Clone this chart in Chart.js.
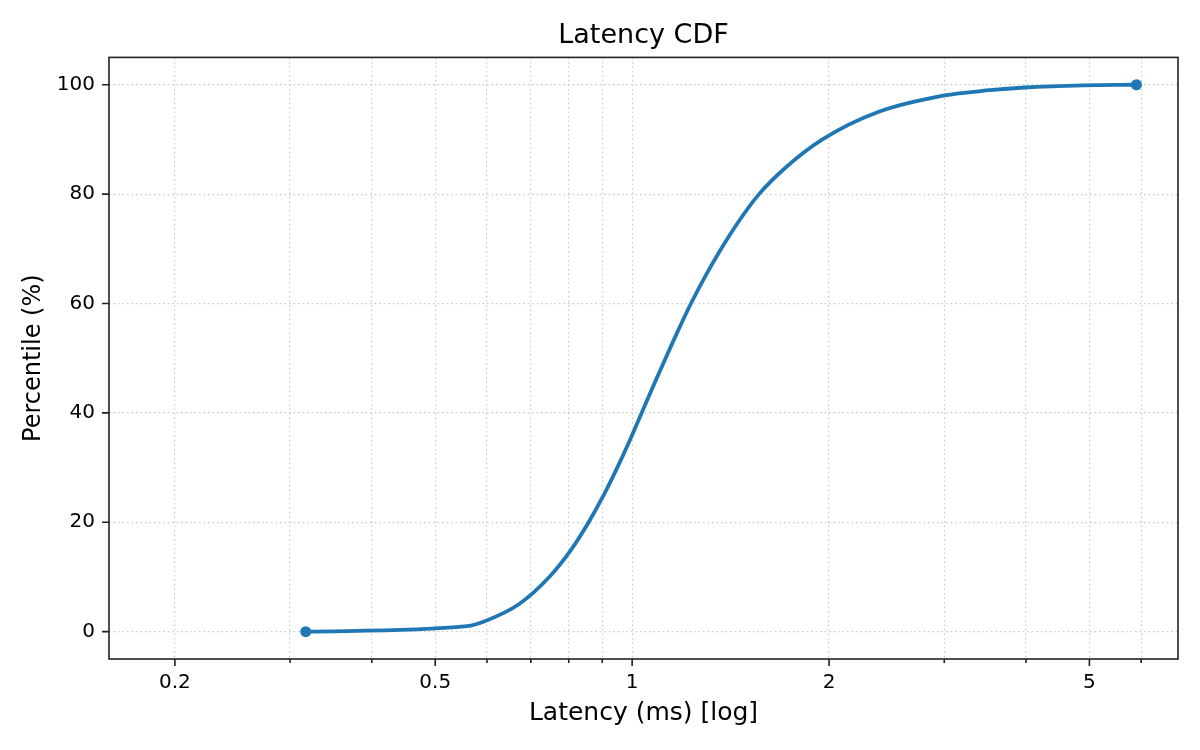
<!DOCTYPE html>
<html>
<head>
<meta charset="utf-8">
<title>Latency CDF</title>
<script src="https://cdn.jsdelivr.net/npm/chart.js@4.4.1/dist/chart.umd.min.js"></script>
<style>
  html, body { margin: 0; padding: 0; background: #fff; }
</style>
</head>
<body>
<canvas id="cdf-chart" width="1200" height="750"></canvas>
<script>
// Percentile reached at each latency
const percentiles = [0, 1, 2, 5, 10, 15, 20, 25, 30, 35, 40, 45, 50, 55, 60, 65, 70, 75, 80, 85, 90, 95, 98, 99, 99.5, 99.9, 100];
const latencyMs = [0.317, 0.559, 0.598, 0.671, 0.747, 0.807, 0.858, 0.905, 0.949, 0.992, 1.034, 1.078, 1.125, 1.175, 1.230, 1.294, 1.368, 1.455, 1.563, 1.722, 1.954, 2.377, 2.99, 3.52, 3.98, 4.9, 5.90];

// Axis ticks
const xTicks = [0.2, 0.3, 0.4, 0.5, 0.6, 0.7, 0.8, 0.9, 1, 2, 3, 4, 5, 6];
const xMajorTicks = [0.2, 0.5, 1, 2, 5];
const yTicks = [0, 20, 40, 60, 80, 100];

const FONT = 'DejaVu Sans';
const lastIdx = latencyMs.length - 1;

// Box around the plot + tick marks (major longer than minor)
const frameAndTicks = {
  id: 'frameAndTicks',
  afterDraw(chart) {
    const { ctx, chartArea: a, scales: { x, y } } = chart;
    ctx.save();
    ctx.strokeStyle = '#222';
    ctx.lineWidth = 1.6;
    ctx.beginPath();
    x.ticks.forEach(t => {
      const px = x.getPixelForValue(t.value);
      const len = xMajorTicks.includes(t.value) ? 7 : 4;
      ctx.moveTo(px, a.bottom);
      ctx.lineTo(px, a.bottom + len);
    });
    y.ticks.forEach(t => {
      const py = y.getPixelForValue(t.value);
      ctx.moveTo(a.left - 7, py);
      ctx.lineTo(a.left, py);
    });
    ctx.stroke();
    ctx.strokeRect(a.left, a.top, a.right - a.left, a.bottom - a.top);
    ctx.restore();
  }
};

const ctx = document.getElementById('cdf-chart').getContext('2d');
new Chart(ctx, {
  type: 'line',
  data: {
    datasets: [{
      data: latencyMs.map((v, i) => ({ x: v, y: percentiles[i] })),
      borderColor: '#1f77b4',
      backgroundColor: '#1f77b4',
      borderWidth: 3.8,
      cubicInterpolationMode: 'monotone',
      pointRadius: latencyMs.map((v, i) => (i === 0 || i === lastIdx) ? 5.5 : 0),
      pointBorderWidth: 0,
      fill: false
    }]
  },
  options: {
    responsive: false,
    animation: false,
    layout: { padding: { left: 0, right: 22, top: 0, bottom: 0 } },
    plugins: {
      legend: { display: false },
      tooltip: { enabled: false },
      title: {
        display: true,
        fullSize: false,
        text: 'Latency CDF',
        color: '#000',
        font: { family: FONT, size: 27, weight: 'normal', lineHeight: 1.2 },
        padding: { top: 20, bottom: 5 }
      }
    },
    scales: {
      x: {
        type: 'logarithmic',
        min: 0.1586,
        max: 6.83,
        afterBuildTicks: s => { s.ticks = xTicks.map(v => ({ value: v })); },
        afterFit: s => { s.height = 91; },
        grid: { color: '#cccccc', lineWidth: 1.2, drawTicks: false },
        border: { display: false, dash: [1.7, 2.8] },
        ticks: {
          autoSkip: false,
          maxRotation: 0,
          padding: 12,
          color: '#000',
          font: { family: FONT, size: 20 },
          callback: v => xMajorTicks.includes(v) ? String(v) : ''
        },
        title: {
          display: true,
          text: 'Latency (ms) [log]',
          color: '#000',
          font: { family: FONT, size: 25 },
          padding: { top: 0, bottom: 22 }
        }
      },
      y: {
        min: -5,
        max: 105,
        afterBuildTicks: s => { s.ticks = yTicks.map(v => ({ value: v })); },
        afterFit: s => { s.width = 109; },
        grid: { color: '#cccccc', lineWidth: 1.2, drawTicks: false },
        border: { display: false, dash: [1.7, 2.8] },
        ticks: {
          padding: 14,
          color: '#000',
          font: { family: FONT, size: 20 }
        },
        title: {
          display: true,
          text: 'Percentile (%)',
          color: '#000',
          font: { family: FONT, size: 24 },
          padding: { top: 19, bottom: 0 }
        }
      }
    }
  },
  plugins: [frameAndTicks]
});
</script>
</body>
</html>
